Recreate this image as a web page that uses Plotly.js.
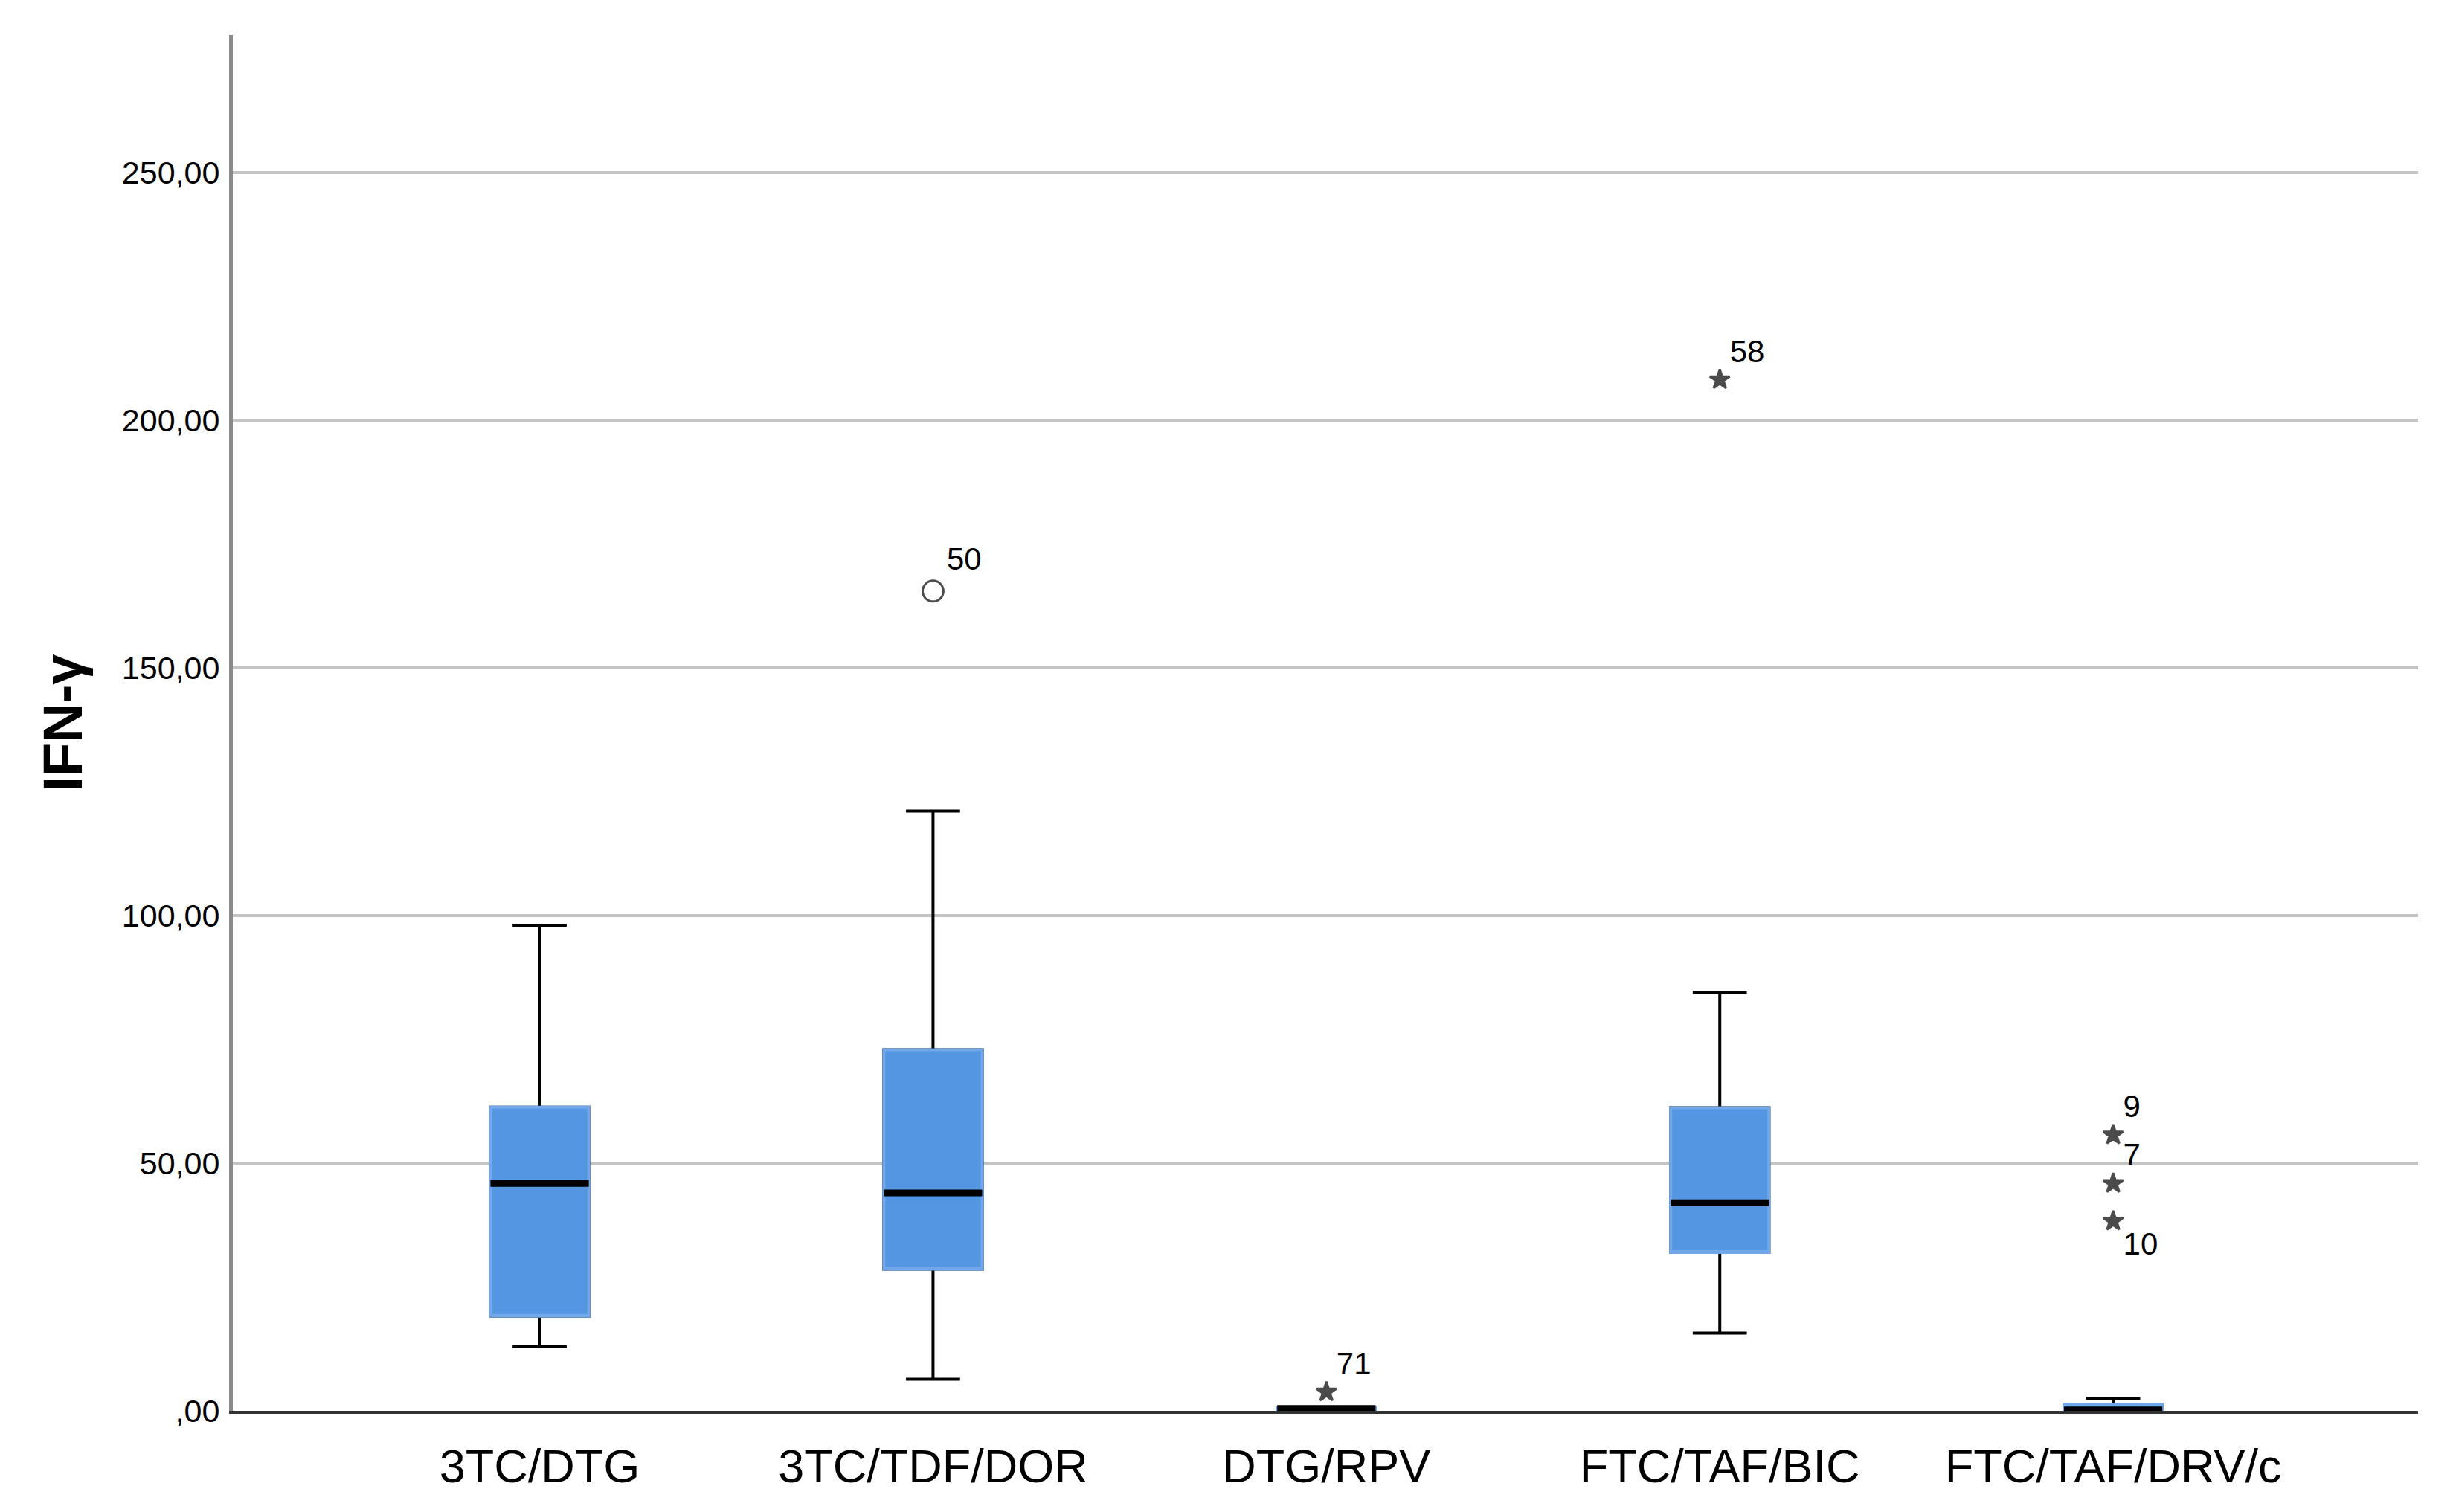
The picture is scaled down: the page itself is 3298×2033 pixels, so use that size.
<!DOCTYPE html>
<html>
<head>
<meta charset="utf-8">
<script src="https://cdn.plot.ly/plotly-3.0.1.min.js"></script>
<style>html,body{margin:0;padding:0;background:#fff;}#chart{width:3298px;height:2033px;}</style>
</head>
<body>
<div id="chart"></div>
<script>
// ---- data ----
const categories = ['3TC/DTG', '3TC/TDF/DOR', 'DTG/RPV', 'FTC/TAF/BIC', 'FTC/TAF/DRV/c'];
const lowerWhisker = [12.9, 6.4, 0, 15.7, 0];
const q1Values = [19.1, 28.6, 0, 32.0, 0];
const medianValues = [45.9, 44.0, 0.5, 42.0, 0.2];
const q3Values = [61.3, 72.9, 0.6, 61.2, 1.3];
const upperWhisker = [98.0, 121.1, 0.6, 84.5, 2.5];

const outlierCategory = ['3TC/TDF/DOR', 'FTC/TAF/BIC', 'DTG/RPV', 'FTC/TAF/DRV/c', 'FTC/TAF/DRV/c', 'FTC/TAF/DRV/c'];
const outlierValue = [165.5, 208.2, 3.8, 55.7, 45.9, 38.3];
const outlierCase = ['50', '58', '71', '9', '7', '10'];
const outlierKind = ['mild', 'extreme', 'extreme', 'extreme', 'extreme', 'extreme'];
const outlierLabelSide = ['top right', 'top right', 'top right', 'top right', 'top right', 'bottom right'];

const yTickValues = [0, 50, 100, 150, 200, 250];
const yTickLabels = [',00', '50,00', '100,00', '150,00', '200,00', '250,00'];
const yAxisTitle = 'IFN-γ';

// ---- styles ----
const boxFill = '#5596e3';
const boxEdge = '#72a8ea';

const whiskerTrace = {
  type: 'box', x: categories,
  q1: q1Values, median: medianValues, q3: q3Values,
  lowerfence: lowerWhisker, upperfence: upperWhisker,
  width: 0.25, whiskerwidth: 0.55,
  fillcolor: boxFill, line: {color: '#000000', width: 4},
  boxpoints: false, hoverinfo: 'skip', showlegend: false
};
const bodyTrace = {
  type: 'box', x: categories,
  q1: q1Values, median: q1Values, q3: q3Values,
  lowerfence: q1Values, upperfence: q3Values,
  width: 0.25, whiskerwidth: 0,
  fillcolor: boxFill, line: {color: boxEdge, width: 4},
  boxpoints: false, hoverinfo: 'skip', showlegend: false
};
const medianTrace = {
  type: 'box', x: categories,
  q1: medianValues, median: medianValues, q3: medianValues,
  lowerfence: medianValues, upperfence: medianValues,
  width: 0.25, whiskerwidth: 0,
  fillcolor: 'rgba(0,0,0,0)', line: {color: '#000000', width: 9},
  boxpoints: false, hoverinfo: 'skip', showlegend: false
};
const outlierTrace = {
  type: 'scatter', mode: 'markers+text',
  x: outlierCategory, y: outlierValue, text: outlierCase,
  textposition: outlierLabelSide,
  textfont: {family: 'Liberation Sans, Arial, sans-serif', size: 42, color: '#000'},
  marker: {
    symbol: outlierKind.map(k => k === 'mild' ? 'circle-open' : 'star'),
    size: outlierKind.map(k => k === 'mild' ? 28 : 20),
    color: '#000000',
    line: {color: '#000000', width: 3}
  },
  cliponaxis: false, hoverinfo: 'skip', showlegend: false
};

const layout = {
  width: 3298, height: 2033,
  margin: {l: 313, r: 47, t: 47, b: 136},
  paper_bgcolor: '#ffffff', plot_bgcolor: '#ffffff',
  boxmode: 'overlay',
  showlegend: false,
  xaxis: {
    type: 'category',
    range: [-0.78, 4.775],
    showgrid: false, zeroline: false,
    showline: true, linecolor: '#333333', linewidth: 4,
    ticks: '', ticklabelstandoff: 16,
    tickfont: {family: 'Liberation Sans, Arial, sans-serif', size: 63, color: '#000'}
  },
  yaxis: {
    range: [0, 277.8],
    tickvals: yTickValues, ticktext: yTickLabels,
    showgrid: true, gridcolor: '#c4c4c4', gridwidth: 4,
    zeroline: false,
    showline: true, linecolor: '#8a8a8a', linewidth: 5,
    ticks: '', ticklabelstandoff: 4,
    tickfont: {family: 'Liberation Sans, Arial, sans-serif', size: 43, color: '#000'},
    title: {text: yAxisTitle, standoff: 30,
            font: {family: 'Liberation Sans, Arial, sans-serif', size: 74, color: '#000', weight: 'bold'}}
  }
};

Plotly.newPlot('chart', [whiskerTrace, bodyTrace, medianTrace, outlierTrace], layout, {staticPlot: true, displayModeBar: false});
</script>
</body>
</html>
